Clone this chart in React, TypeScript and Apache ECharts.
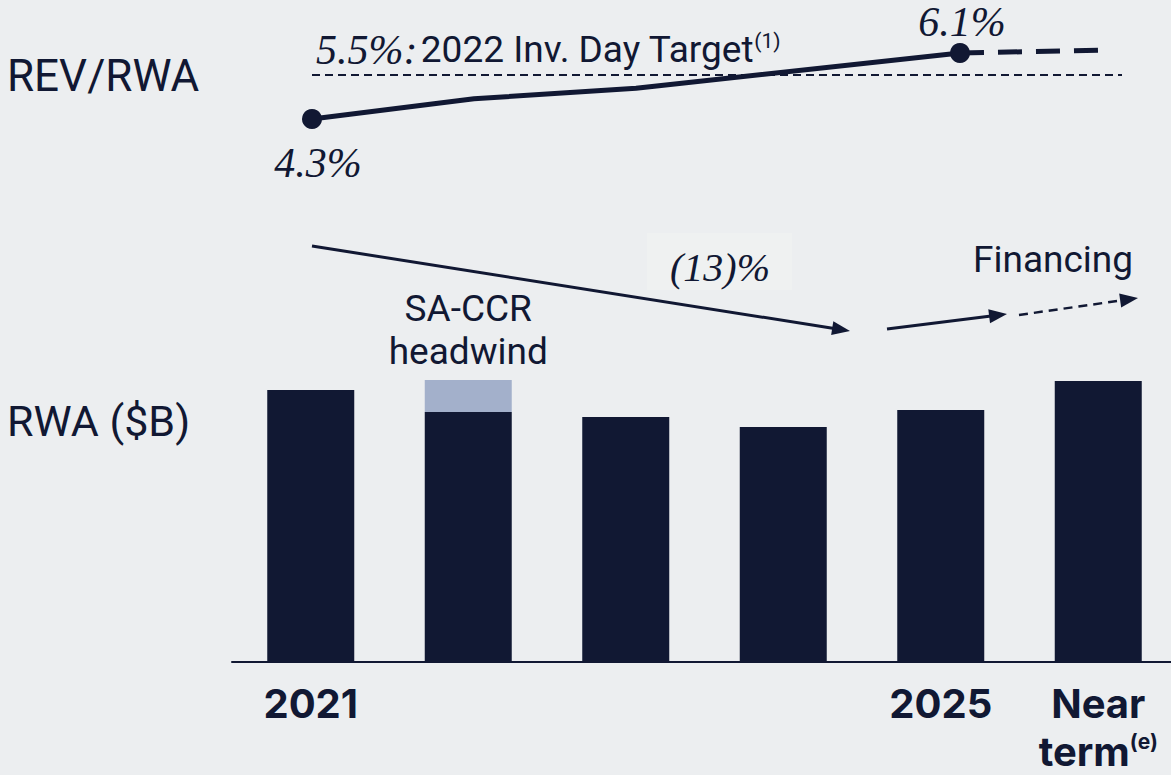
import React, { useEffect, useRef } from "react";
import * as echarts from "echarts";

// ---- data ----
const categories = ["2021", "2022", "2023", "2024", "2025", "Near term"];
const tickLabels = ["2021", "", "", "", "2025", "Near term"];
const rwaBase = [272, 250, 245, 235, 252, 281];
const saCcrHeadwind = [null, 32, null, null, null, null];
const revRwaYears = [2021, 2022, 2023, 2025];
const revRwaValues = [4.3, 4.85, 5.14, 6.1];
const nearTermX = 2025.92;
const nearTermRevRwa = 6.18;
const targetValue = 5.5;
const rwaChangeLabel = "(13)%";

const ink = "#111833";
const bg = "#ECEEF0";
const light = "#A3B0CB";
const serif = "'Liberation Serif', serif";
const sans = "Roboto, sans-serif";
const boldSans = "Inter, Roboto, sans-serif";

function arrow(x1: number, y1: number, x2: number, y2: number, width: number, dashed: boolean) {
  const dx = x2 - x1, dy = y2 - y1;
  const len = Math.sqrt(dx * dx + dy * dy);
  const ux = dx / len, uy = dy / len;
  const hl = 18, hw = 7;
  const bx = x2 - ux * hl, by = y2 - uy * hl;
  return [
    {
      type: "line",
      shape: { x1, y1, x2: bx + ux * 2, y2: by + uy * 2 },
      style: { stroke: ink, lineWidth: width, lineDash: dashed ? [9, 6] : null },
    },
    {
      type: "polygon",
      shape: {
        points: [
          [x2, y2],
          [bx - uy * hw, by + ux * hw],
          [bx + uy * hw, by - ux * hw],
        ],
      },
      style: { fill: ink },
    },
  ];
}

export default function App() {
  const ref = useRef<HTMLDivElement>(null);
  useEffect(() => {
    document.body.style.margin = "0";
    const chart = echarts.init(ref.current!, null, { renderer: "svg" });
    const lineData = revRwaYears.map((x, i) => {
      const isEnd = i === 0 || i === revRwaYears.length - 1;
      const item: any = { value: [x, revRwaValues[i]], symbol: isEnd ? "circle" : "none" };
      if (i === 0) {
        item.label = { show: true, position: "bottom", offset: [6, 8] };
      }
      if (i === revRwaYears.length - 1) {
        item.label = { show: true, position: "top", offset: [2, 5] };
      }
      return item;
    });
    chart.setOption({
      animation: false,
      backgroundColor: bg,
      grid: [
        { left: 312, top: 38.33, width: 810, height: 91.67, outerBoundsMode: "none", containLabel: false },
        { left: 232, top: 362, width: 945, height: 300, outerBoundsMode: "none", containLabel: false },
      ],
      xAxis: [
        { type: "value", gridIndex: 0, min: 2021, max: 2026, show: false },
        {
          type: "category",
          gridIndex: 1,
          data: categories,
          axisTick: { show: false },
          axisLine: { show: true, lineStyle: { color: ink, width: 2 } },
          axisLabel: {
            interval: 0,
            margin: 17,
            formatter: (v: string, i: number) => {
              const t = tickLabels[i];
              if (!t) return "";
              if (t === "Near term") return "{b|Near}\n{b|term}{sup|(e)}";
              return "{b|" + t + "}";
            },
            rich: {
              b: { fontFamily: boldSans, fontWeight: "bold", fontSize: 40, lineHeight: 48, color: ink },
              sup: { fontFamily: boldSans, fontWeight: "bold", fontSize: 21, color: ink, padding: [0, 0, 20, 0] },
            },
          },
        },
      ],
      yAxis: [
        { type: "value", gridIndex: 0, min: 4, max: 6.5, show: false },
        { type: "value", gridIndex: 1, min: 0, max: 300, show: false },
      ],
      series: [
        {
          type: "line",
          xAxisIndex: 0,
          yAxisIndex: 0,
          data: lineData,
          symbolSize: 20,
          clip: false,
          z: 5,
          lineStyle: { color: ink, width: 5 },
          itemStyle: { color: ink },
          label: {
            formatter: (p: any) => p.value[1].toFixed(1) + "%",
            fontFamily: serif,
            fontStyle: "italic",
            fontSize: 42,
            color: ink,
          },
          markLine: {
            silent: true,
            symbol: "none",
            lineStyle: { color: ink, width: 2, type: [8, 5] },
            data: [{ yAxis: targetValue }],
            label: {
              show: true,
              position: "insideStartTop",
              distance: 4,
              formatter: "{s|5.5%:} {t|2022 Inv. Day Target}{sup|(1)}",
              rich: {
                s: { fontFamily: serif, fontStyle: "italic", fontSize: 42, color: ink },
                t: { fontFamily: sans, fontSize: 37, color: ink },
                sup: { fontFamily: sans, fontSize: 21, color: ink, padding: [0, 0, 18, 0] },
              },
            },
          },
        },
        {
          type: "line",
          xAxisIndex: 0,
          yAxisIndex: 0,
          data: [
            [revRwaYears[revRwaYears.length - 1], revRwaValues[revRwaValues.length - 1]],
            [nearTermX, nearTermRevRwa],
          ],
          symbol: "none",
          clip: false,
          z: 4,
          lineStyle: { color: ink, width: 5, type: [24, 14] },
        },
        {
          type: "bar",
          xAxisIndex: 1,
          yAxisIndex: 1,
          stack: "rwa",
          barWidth: 87,
          data: rwaBase,
          itemStyle: { color: ink },
        },
        {
          type: "bar",
          xAxisIndex: 1,
          yAxisIndex: 1,
          stack: "rwa",
          barWidth: 87,
          data: saCcrHeadwind,
          itemStyle: { color: light },
          label: {
            show: true,
            position: "top",
            distance: 7,
            formatter: (p: any) => (p.value ? "SA-CCR\nheadwind" : ""),
            fontFamily: sans,
            fontSize: 37,
            lineHeight: 43,
            color: ink,
          },
        },
      ],
      graphic: [
        {
          type: "text",
          x: 7,
          y: 76,
          style: { text: "REV/RWA", fontFamily: sans, fontSize: 44, fill: ink, align: "left", verticalAlign: "middle" },
        },
        {
          type: "text",
          x: 7,
          y: 421,
          style: { text: "RWA ($B)", fontFamily: sans, fontSize: 43, fill: ink, align: "left", verticalAlign: "middle" },
        },
        {
          type: "rect",
          shape: { x: 647, y: 233, width: 145, height: 57 },
          style: { fill: "#EFF1F1" },
          z: 1,
        },
        {
          type: "text",
          x: 720,
          y: 267,
          z: 2,
          style: {
            text: rwaChangeLabel,
            fontFamily: serif,
            fontStyle: "italic",
            fontSize: 40,
            fill: ink,
            align: "center",
            verticalAlign: "middle",
          },
        },
        {
          type: "text",
          x: 1053,
          y: 259,
          style: { text: "Financing", fontFamily: sans, fontSize: 37, fill: ink, align: "center", verticalAlign: "middle" },
        },
        ...arrow(312, 246, 850, 331, 3, false),
        ...arrow(887, 329, 1007, 314, 3, false),
        ...arrow(1019, 315, 1138, 298, 2.5, true),
      ],
    });
    return () => chart.dispose();
  }, []);
  return <div ref={ref} style={{ width: 1171, height: 775 }} />;
}
